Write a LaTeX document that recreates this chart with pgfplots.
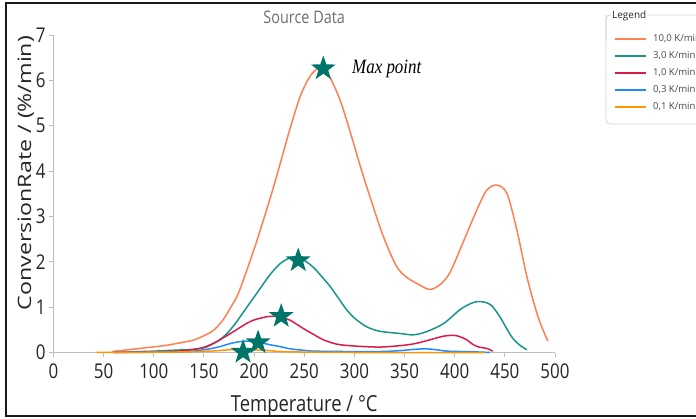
\documentclass[border=0pt]{standalone}
\usepackage{fontspec}
\setmainfont{Open Sans}
\newfontfamily\serifit{Liberation Serif}
\usepackage{pgfplots}
\pgfplotsset{compat=1.18}
\definecolor{cA}{RGB}{255,128,80}
\definecolor{cB}{RGB}{24,150,138}
\definecolor{cC}{RGB}{220,28,72}
\definecolor{cD}{RGB}{30,140,255}
\definecolor{cE}{RGB}{255,150,0}
\definecolor{starc}{RGB}{0,118,106}
\definecolor{axgray}{RGB}{190,190,190}
\definecolor{titlegray}{RGB}{110,110,110}
\definecolor{legtext}{RGB}{70,70,70}
\pgfdeclareplotmark{fstar}{%
  \pgfpathmoveto{\pgfpointpolar{90}{\pgfplotmarksize}}%
  \pgfpathlineto{\pgfpointpolar{126}{0.4\pgfplotmarksize}}%
  \pgfpathlineto{\pgfpointpolar{162}{\pgfplotmarksize}}%
  \pgfpathlineto{\pgfpointpolar{198}{0.4\pgfplotmarksize}}%
  \pgfpathlineto{\pgfpointpolar{234}{\pgfplotmarksize}}%
  \pgfpathlineto{\pgfpointpolar{270}{0.4\pgfplotmarksize}}%
  \pgfpathlineto{\pgfpointpolar{306}{\pgfplotmarksize}}%
  \pgfpathlineto{\pgfpointpolar{342}{0.4\pgfplotmarksize}}%
  \pgfpathlineto{\pgfpointpolar{18}{\pgfplotmarksize}}%
  \pgfpathlineto{\pgfpointpolar{54}{0.4\pgfplotmarksize}}%
  \pgfpathclose
  \pgfusepathqfill
}
\begin{document}
\begin{tikzpicture}
\clip (0,0) rectangle (696bp,419bp);
\useasboundingbox (0,0) rectangle (696bp,419bp);
\fill[white] (0,0) rectangle (696bp,419bp);
\begin{axis}[
  at={(53.5bp,66.5bp)}, anchor=south west,
  scale only axis, width=501.5bp, height=317.5bp,
  xmin=0, xmax=500, ymin=0, ymax=7,
  axis lines=left,
  axis line style={-, draw=axgray, line width=1.2bp},
  xtick={0,50,...,500}, ytick={0,1,...,7},
  tick align=outside, major tick length=4.5bp,
  tick style={axgray, line width=1bp},
  /pgf/number format/assume math mode=true,
  tick label style={font=\fontsize{17}{20}\selectfont, text=black!85},
  xticklabel style={yshift=-3bp},
  xticklabel={\scalebox{1}[1.2]{\pgfmathprintnumber{\tick}}},
  yticklabel={\scalebox{1}[1.2]{\pgfmathprintnumber{\tick}}},
  xlabel={\scalebox{1}[1.2]{Temperature / °C}},
  ylabel={\scalebox{1.26}[1]{ConversionRate / (\%/min)}},
  label style={font=\fontsize{18.5}{22}\selectfont, text=black!85},
  xlabel style={at={(axis description cs:0.5,-0.168)}, anchor=center},
  ylabel style={at={(axis description cs:-0.055,0.565)}, anchor=center},
  title={\scalebox{1}[1.2]{Source Data}},
  title style={at={(axis description cs:0.5,1.036)}, anchor=center, font=\fontsize{14.5}{17}\selectfont, text=titlegray},
  clip=false,
  legend style={at={(axis description cs:1.1117,1.0079)}, anchor=north west, draw=none, fill=none,
    font=\fontsize{9.6}{12}\selectfont, text=legtext, row sep=8bp,
    nodes={inner sep=0pt, text height=7bp, text depth=2bp},
    /tikz/every odd column/.append style={column sep=6.5bp}},
  legend cell align=left,
  legend image code/.code={\draw[#1, line width=1.5bp] (0bp,0bp) -- (31bp,0bp);},
]
\addplot[cA, line width=1.5bp, smooth, tension=0.5] coordinates {
(58,0.02) (70,0.05) (90,0.10) (110,0.15) (123,0.20) (139,0.27) (149,0.36) (157,0.45)
(163,0.56) (170,0.75) (176,0.97) (183,1.24) (189,1.58) (196,2.02) (203,2.48) (209,2.90)
(216,3.40) (222,3.85) (229,4.40) (236,4.95) (246,5.65) (256,6.10) (264,6.26) (270,6.22)
(276,6.05) (286,5.55) (296,4.85) (306,4.10) (316,3.40) (329,2.55) (342,1.90) (352,1.66)
(365,1.49) (375,1.39) (385,1.49) (395,1.75) (408,2.41) (422,3.14) (432,3.58) (442,3.69)
(452,3.51) (462,2.70) (472,1.67) (482,0.86) (488,0.50) (493,0.25)};
\addlegendentry{10,0 K/min}
\addplot[cB, line width=1.5bp, smooth, tension=0.5] coordinates {
(60,0.00) (100,0.03) (120,0.05) (139,0.07) (149,0.11) (156,0.17) (165,0.27) (173,0.42)
(181,0.63) (189,0.88) (198,1.16) (206,1.41) (216,1.72) (226,1.96) (234,2.07) (241,2.11)
(250,2.03) (259,1.88) (268,1.66) (276,1.45) (284,1.20) (292,0.95) (300,0.76) (312,0.57)
(325,0.47) (345,0.42) (359,0.39) (372,0.46) (389,0.64) (405,0.94) (415,1.07) (422,1.12)
(430,1.11) (437,1.03) (445,0.79) (452,0.52) (458,0.31) (465,0.16) (472,0.06)};
\addlegendentry{3,0 K/min}
\addplot[cC, line width=1.5bp, smooth, tension=0.5] coordinates {
(60,0.00) (110,0.02) (130,0.04) (149,0.10) (158,0.18) (166,0.28) (175,0.40) (183,0.51)
(191,0.62) (199,0.71) (207,0.76) (213,0.79) (220,0.80) (227,0.78) (236,0.71) (244,0.60)
(252,0.49) (260,0.39) (269,0.28) (278,0.21) (286,0.17) (302,0.14) (325,0.12) (345,0.15)
(359,0.19) (372,0.26) (385,0.34) (392,0.37) (399,0.38) (405,0.35) (412,0.28) (418,0.18)
(424,0.12) (432,0.09) (438,0.03)};
\addlegendentry{1,0 K/min}
\addplot[cD, line width=1.5bp, smooth, tension=0.5] coordinates {
(60,0.00) (120,0.01) (139,0.03) (150,0.06) (158,0.09) (166,0.13) (175,0.19) (183,0.23)
(191,0.25) (198,0.25) (206,0.22) (216,0.17) (226,0.13) (236,0.08) (249,0.05) (260,0.03)
(300,0.02) (325,0.02) (345,0.04) (360,0.07) (372,0.08) (382,0.06) (392,0.03) (410,0.02)
(425,0.01) (435,0.00)};
\addlegendentry{0,3 K/min}
\addplot[cE, line width=1.5bp, smooth, tension=0.5] coordinates {
(43,0.00) (120,0.01) (156,0.03) (175,0.06) (189,0.07) (200,0.06) (216,0.04) (226,0.02)
(250,0.01) (300,0.00) (430,0.00)};
\addlegendentry{0,1 K/min}
\addplot[only marks, mark=fstar, mark size=13bp, color=starc, forget plot] coordinates {
(189,0.01) (204,0.22) (227,0.80) (244,2.03) (269,6.26)};
\node[anchor=west, inner sep=0pt, font=\fontsize{17}{20}\selectfont\serifit\itshape] at (axis cs:297.6,6.25) {\scalebox{1}[1.2]{Max point}};
\end{axis}
\draw[line width=2bp, black!90] (700bp,416bp) -- (6bp,416bp) -- (6bp,3bp) -- (700bp,3bp);
\draw[axgray!70, line width=0.8bp, rounded corners=4bp] (640bp,404bp) -- (710bp,404bp) (606bp,404bp) -- (606bp,295bp) -- (710bp,295bp);
\draw[axgray!70, line width=0.8bp, rounded corners=4bp] (611bp,404bp) -- (606bp,404bp) -- (606bp,380bp);
\node[anchor=west, inner sep=1bp, fill=white, font=\fontsize{10}{12}\selectfont, text=black!85] at (611bp,403bp) {Legend};
\end{tikzpicture}
\end{document}
